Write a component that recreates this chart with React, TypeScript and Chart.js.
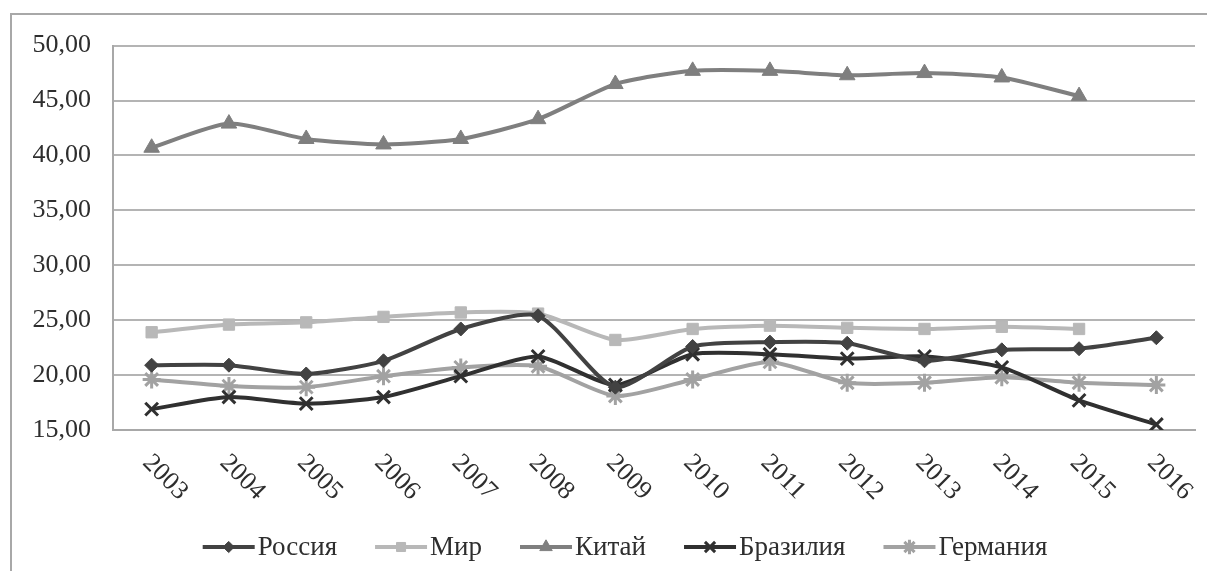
import React, { useEffect, useRef } from 'react';
import { Chart, registerables } from 'chart.js';
import { drawPoint } from 'chart.js/helpers';

Chart.register(...registerables);

const years = ['2003', '2004', '2005', '2006', '2007', '2008', '2009', '2010', '2011', '2012', '2013', '2014', '2015', '2016'];
const russia = [20.9, 20.9, 20.1, 21.3, 24.2, 25.4, 18.9, 22.6, 23.0, 22.9, 21.3, 22.3, 22.4, 23.4];
const world = [23.9, 24.6, 24.8, 25.3, 25.7, 25.6, 23.2, 24.2, 24.5, 24.3, 24.2, 24.4, 24.2, null];
const china = [40.7, 42.9, 41.5, 41.0, 41.5, 43.3, 46.5, 47.7, 47.7, 47.3, 47.5, 47.1, 45.4, null];
const brazil = [16.9, 18.0, 17.4, 18.0, 19.9, 21.7, 19.1, 21.9, 21.9, 21.5, 21.7, 20.7, 17.7, 15.5];
const germany = [19.6, 19.0, 18.9, 19.9, 20.7, 20.8, 18.1, 19.6, 21.2, 19.3, 19.3, 19.8, 19.3, 19.1];
const seriesNames = ['Россия', 'Мир', 'Китай', 'Бразилия', 'Германия'];
const yMin = 15;
const yMax = 50;
const yStep = 5;

const FONT = '"Liberation Serif", "Times New Roman", serif';

const customDraw = {
  id: 'customDraw',
  afterDraw(chart: any) {
    const ctx = chart.ctx;
    const W = chart.width;
    const H = chart.height;
    ctx.save();
    // outer frame
    ctx.strokeStyle = '#a8a8a8';
    ctx.lineWidth = 2;
    ctx.beginPath();
    ctx.moveTo(3, H);
    ctx.lineTo(3, 6);
    ctx.lineTo(W, 6);
    ctx.stroke();

    // rotated x labels
    const xs = chart.scales.x;
    ctx.font = '26px ' + FONT;
    ctx.fillStyle = '#2e2e2e';
    ctx.textAlign = 'left';
    ctx.textBaseline = 'middle';
    years.forEach((y, i) => {
      const x = xs.getPixelForTick(i);
      ctx.save();
      ctx.translate(x - 5, 451);
      ctx.rotate(Math.PI / 4);
      ctx.fillText(y, 0, 0);
      ctx.restore();
    });

    // legend
    const lineLen = 52;
    const gapText = 3;
    const gapItem = 38;
    ctx.font = '27px ' + FONT;
    const widths = chart.data.datasets.map((d: any) => lineLen + gapText + ctx.measureText(d.label).width);
    const total = widths.reduce((a: number, b: number) => a + b, 0) + gapItem * (widths.length - 1);
    let cx = 617 - total / 2;
    const ly = 539;
    chart.data.datasets.forEach((d: any, i: number) => {
      ctx.strokeStyle = d.borderColor;
      ctx.lineWidth = 4;
      ctx.beginPath();
      ctx.moveTo(cx, ly);
      ctx.lineTo(cx + lineLen, ly);
      ctx.stroke();
      ctx.fillStyle = d.pointBackgroundColor;
      ctx.strokeStyle = d.pointBorderColor;
      ctx.lineWidth = d.pointBorderWidth;
      drawPoint(ctx, { pointStyle: d.pointStyle, radius: d.pointRadius * 0.8, rotation: 0, borderWidth: d.pointBorderWidth }, cx + lineLen / 2, ly);
      ctx.fillStyle = '#2e2e2e';
      ctx.textAlign = 'left';
      ctx.textBaseline = 'middle';
      ctx.fillText(d.label, cx + lineLen + gapText, ly + 1);
      cx += widths[i] + gapItem;
    });
    ctx.restore();
  },
};

function mk(label: string, data: (number | null)[], color: string, style: string, radius: number, bw: number) {
  return {
    label,
    data,
    borderColor: color,
    backgroundColor: color,
    pointBackgroundColor: color,
    pointBorderColor: color,
    pointStyle: style,
    pointRadius: radius,
    pointBorderWidth: bw,
    borderWidth: 4,
    tension: 0.22,
    spanGaps: false,
  };
}

export default function App() {
  const ref = useRef<HTMLCanvasElement>(null);
  useEffect(() => {
    if (!ref.current) return;
    const chart = new Chart(ref.current, {
      type: 'line',
      data: {
        labels: years,
        datasets: [
          mk(seriesNames[0], russia, '#424242', 'rectRot', 7, 1),
          mk(seriesNames[1], world, '#b8b8b8', 'rect', 8, 1),
          mk(seriesNames[2], china, '#7f7f7f', 'triangle', 9, 1),
          mk(seriesNames[3], brazil, '#303030', 'crossRot', 9, 3),
          mk(seriesNames[4], germany, '#a2a2a2', 'star', 9, 3),
        ],
      },
      options: {
        responsive: false,
        animation: false,
        layout: { padding: { left: 0, right: 10, top: 36, bottom: 0 } },
        plugins: {
          legend: { display: false },
          tooltip: { enabled: false },
          title: { display: false },
        },
        scales: {
          x: {
            type: 'category',
            offset: true,
            grid: { display: false, drawTicks: false },
            border: { display: true, color: '#a8a8a8', width: 2 },
            ticks: { display: false },
            afterFit: (s: any) => { s.height = 141; },
          },
          y: {
            min: yMin,
            max: yMax,
            grid: { color: '#b4b4b4', lineWidth: 2, drawTicks: false },
            border: { display: true, color: '#a8a8a8', width: 2 },
            ticks: {
              stepSize: yStep,
              padding: 22,
              color: '#2e2e2e',
              font: { family: FONT, size: 26 },
              callback: (v: any) => Number(v).toFixed(2).replace('.', ','),
            },
            afterFit: (s: any) => { s.width = 105; },
          },
        },
      },
      plugins: [customDraw],
    } as any);
    return () => chart.destroy();
  }, []);
  return <canvas ref={ref} width={1199} height={563} style={{ display: 'block' }} />;
}
